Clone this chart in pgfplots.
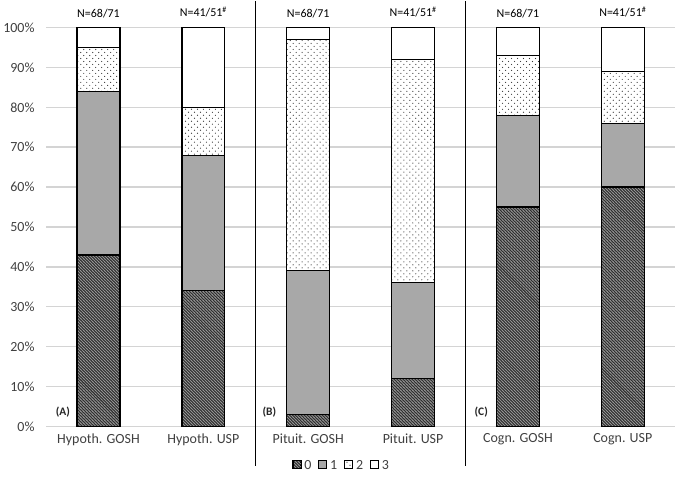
\documentclass[border=0pt]{standalone}
\usepackage{pgfplots}
\pgfplotsset{compat=1.18}
\usepackage{fontspec}
\setmainfont{Carlito}
\newfontfamily\markfont{DejaVu Sans}
\usetikzlibrary{patterns}
\definecolor{txt}{HTML}{404040}
\definecolor{gridc}{HTML}{D4D4D4}
\definecolor{midgray}{HTML}{A8A8A8}
\definecolor{darkfill}{HTML}{2E2E2E}

% diagonal hatching for score 0
\pgfdeclarepatternformonly{hatchzero}{\pgfqpoint{-1pt}{-1pt}}{\pgfqpoint{4pt}{4pt}}{\pgfqpoint{3pt}{3pt}}{%
  \pgfsetlinewidth{0.7pt}%
  \pgfpathmoveto{\pgfqpoint{-0.5pt}{3.5pt}}%
  \pgfpathlineto{\pgfqpoint{3.5pt}{-0.5pt}}%
  \pgfusepath{stroke}}
% sparse staggered dots for score 2
\pgfdeclarepatternformonly{sparsedots}{\pgfqpoint{-1pt}{-1pt}}{\pgfqpoint{7pt}{7pt}}{\pgfqpoint{6pt}{6pt}}{%
  \pgfpathcircle{\pgfqpoint{0pt}{0pt}}{0.6pt}%
  \pgfpathcircle{\pgfqpoint{3pt}{3pt}}{0.6pt}%
  \pgfusepath{fill}}

\pgfplotsset{
  sq legend/.style={legend image code/.code={%
    \draw[##1, line width=0.8pt] (0pt,-3.5pt) rectangle (8pt,4.5pt);}},
  segment/.style={draw=black, line width=1.3pt, sq legend},
}
\tikzset{
  nlab/.style={anchor=base, font=\fontsize{12}{14}\selectfont},
  plab/.style={font=\bfseries\fontsize{11.5}{13}\selectfont, text=black!85},
  sigmark/.style={anchor=north, inner sep=0pt, text=black, font=\markfont\bfseries\fontsize{15}{15}\selectfont},
}

\begin{document}
\begin{tikzpicture}
\begin{axis}[
  scale only axis,
  width=631pt, height=400pt,
  ybar stacked,
  bar width=43pt,
  xmin=-0.5, xmax=5.5,
  ymin=0, ymax=100,
  xtick={0,...,5},
  xticklabels={Hypoth. GOSH, Hypoth. USP, Pituit. GOSH, Pituit. USP, Cogn. GOSH, Cogn. USP},
  ytick={0,10,...,100},
  yticklabel={\pgfmathprintnumber{\tick}\%},
  /pgf/number format/assume math mode=true,
  ticklabel style={font=\fontsize{14}{16}\selectfont, text=txt},
  xticklabel style={yshift=-4pt},
  yticklabel style={xshift=-8pt},
  ymajorgrids,
  grid style={gridc, line width=1.5pt},
  axis line style={draw=none},
  major tick length=0pt,
  clip=false,
  legend columns=4,
  legend style={draw=none, fill=none, at={(0.47,-0.0975)}, anchor=center,
    font=\fontsize{14}{16}\selectfont, text=txt,
    /tikz/every odd column/.append style={column sep=1pt},
    /tikz/every even column/.append style={column sep=5pt}},
]
% score 0
\addplot[segment, preaction={fill=darkfill}, pattern=hatchzero, pattern color=gray!80]
  coordinates {(0,43) (1,34) (2,3) (3,12) (4,55) (5,60)};
% score 1
\addplot[segment, fill=midgray]
  coordinates {(0,41) (1,34) (2,36) (3,24) (4,23) (5,16)};
% score 2
\addplot[segment, preaction={fill=white}, pattern=sparsedots, pattern color=black!80]
  coordinates {(0,11) (1,12) (2,58) (3,56) (4,15) (5,13)};
% score 3
\addplot[segment, fill=white]
  coordinates {(0,5) (1,20) (2,3) (3,8) (4,7) (5,11)};
\legend{0,1,2,3}

% panel dividers
\draw[black, line width=1.2pt] (axis cs:1.5,-9.9) -- (axis cs:1.5,106.75);
\draw[black, line width=1.2pt] (axis cs:3.5,-9.9) -- (axis cs:3.5,106.75);

% sample sizes
\node[nlab] at (axis cs:0,102.4) {N=68/71};
\node[nlab] at (axis cs:2,102.4) {N=68/71};
\node[nlab] at (axis cs:4,102.4) {N=68/71};
\node[nlab] at (axis cs:1,102.8) {N=41/51\textsuperscript{\#}};
\node[nlab] at (axis cs:3,102.8) {N=41/51\textsuperscript{\#}};
\node[nlab] at (axis cs:5,102.8) {N=41/51\textsuperscript{\#}};

% significance marker
\node[sigmark] at (axis cs:0,82.6) {\char42};

% panel letters
\node[plab] at (axis cs:-0.34,3.6) {(A)};
\node[plab] at (axis cs:1.63,3.6) {(B)};
\node[plab] at (axis cs:3.65,3.6) {(C)};

% page extent
\path (rel axis cs:-0.0713,-0.135) (rel axis cs:1,1.0675);
\end{axis}
\end{tikzpicture}
\end{document}
